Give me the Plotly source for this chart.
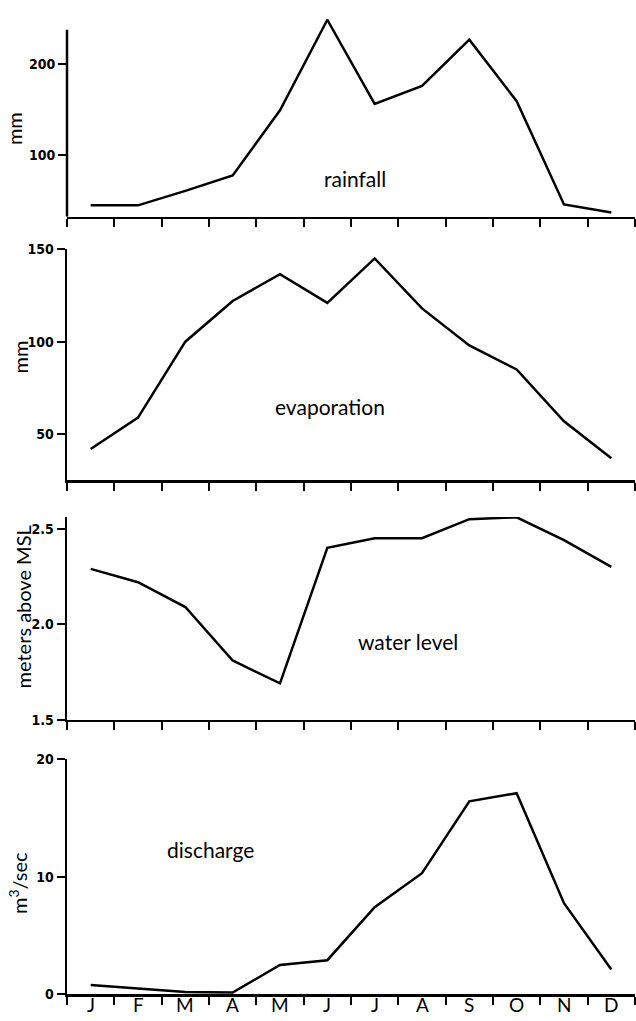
import plotly.graph_objects as go

months = ["J", "F", "M", "A", "M", "J", "J", "A", "S", "O", "N", "D"]
rainfall = [44, 44, 60, 77, 149, 249, 156, 176, 227, 159, 45, 36]
evaporation = [42, 59, 100, 122, 136.5, 121, 145, 118, 98, 85, 57, 37]
water_level = [2.29, 2.22, 2.09, 1.81, 1.69, 2.40, 2.45, 2.45, 2.55, 2.56, 2.44, 2.30]
discharge = [0.8, 0.5, 0.2, 0.15, 2.5, 2.9, 7.4, 10.3, 16.4, 17.1, 7.75, 2.1]

panel_names = ["rainfall", "evaporation", "water level", "discharge"]
y_titles = ["mm", "mm", "meters above MSL", "m<sup>3</sup>/sec"]
y_ticks = [[100, 200], [50, 100, 150], [1.5, 2.0, 2.5], [0, 10, 20]]
y_ticktext = [["100", "200"], ["50", "100", "150"], ["1.5", "2.0", "2.5"], ["0", "10", "20"]]
series = [rainfall, evaporation, water_level, discharge]

W, H = 636, 1021
def py(p):
    return 1 - p / H

x_pos = list(range(1, 13))
x_bounds = [i + 0.5 for i in range(0, 13)]

# pixel geometry per panel: (bottom px, top px, y range)
panels = [
    (212, 9, [31.5, 252.2]),
    (480, 245, [25, 150]),
    (723, 517, [1.5, 2.562]),
    (1002, 763, [0, 20]),
]
label_pos = [(355, 173), (330, 405), (408, 644), (210, 855)]
ytitle_pos = [(14, 122), (20, 355), (23, 609), (18, 889)]

tick_font = dict(family="DejaVu Sans Condensed", size=14, color="black", weight="bold")
text_font = dict(family="Lato", size=21, color="black")

fig = go.Figure()
xl, xr = 67 / W, 635 / W

for i in range(4):
    ax = "" if i == 0 else str(i + 1)
    fig.add_trace(go.Scatter(x=x_pos, y=series[i], mode="lines",
                             line=dict(color="black", width=2.5),
                             xaxis="x" + ax, yaxis="y" + ax, showlegend=False,
                             hoverinfo="skip"))
    b, t, rng = panels[i]
    fig.layout["xaxis" + ax] = dict(
        domain=[xl, xr], anchor="y" + ax, range=[0.5, 12.5],
        tickvals=x_bounds, ticks="outside", ticklen=8, tickwidth=2, tickcolor="black",
        showticklabels=False, showline=True, linecolor="black", linewidth=2.5,
        showgrid=False, zeroline=False, fixedrange=True)
    fig.layout["yaxis" + ax] = dict(
        domain=[py(b), py(t)], anchor="x" + ax, range=rng,
        tickvals=y_ticks[i], ticktext=y_ticktext[i], ticks="outside", ticklen=8,
        tickwidth=2, tickcolor="black", tickfont=tick_font,
        showline=(i != 0), linecolor="black", linewidth=2.5,
        showgrid=False, zeroline=False, fixedrange=True)
    fig.add_annotation(text=panel_names[i], xref="paper", yref="paper",
                       x=label_pos[i][0] / W, y=py(label_pos[i][1]),
                       showarrow=False, font=text_font, xanchor="center", yanchor="middle")
    fig.add_annotation(text=y_titles[i], xref="paper", yref="paper",
                       x=ytitle_pos[i][0] / W, y=py(ytitle_pos[i][1]), textangle=-90,
                       showarrow=False, font=dict(family="Lato", size=20, color="black"),
                       xanchor="center", yanchor="middle")

# rainfall y axis line stops short of the top of the panel
fig.add_shape(type="line", xref="paper", yref="y", x0=xl, x1=xl, y0=31.5, y1=238,
              line=dict(color="black", width=2.5))

for m, x in zip(months, x_pos):
    fig.add_annotation(text=m, xref="x4", yref="paper", x=x, y=py(1012),
                       showarrow=False, font=dict(family="Lato", size=19, color="black"),
                       xanchor="center", yanchor="middle")

fig.update_layout(width=W, height=H, margin=dict(l=0, r=0, t=0, b=0),
                  paper_bgcolor="white", plot_bgcolor="white", hovermode=False)

reset_css = (
    "var s=document.createElement('style');"
    "s.textContent='html,body{margin:0!important;padding:0!important;overflow:hidden!important}';"
    "document.head.appendChild(s);"
)
fig.write_html("out.html", config={"displayModeBar": False, "staticPlot": True},
               post_script=reset_css)
